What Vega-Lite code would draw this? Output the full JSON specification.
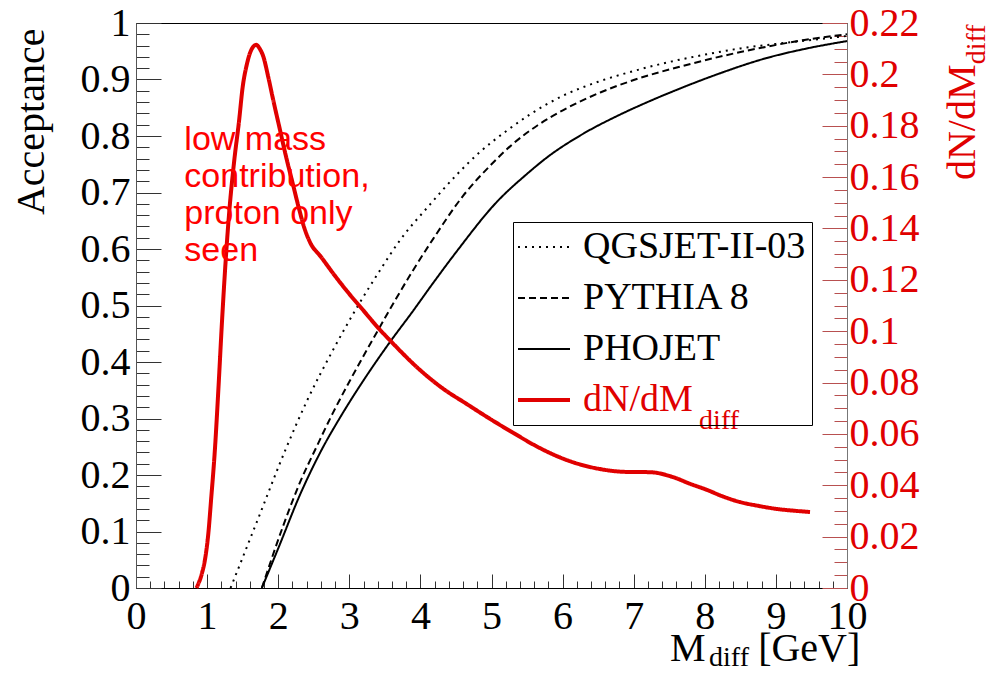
{
  "$schema": "https://vega.github.io/schema/vega-lite/v6.json",
  "width": 711,
  "height": 565,
  "autosize": {"type": "none"},
  "padding": {"left": 136, "top": 23, "right": 153, "bottom": 87},
  "background": "white",
  "config": {
    "view": {"stroke": "black", "strokeWidth": 1},
    "axis": {"grid": false},
    "legend": {
      "orient": "none",
      "legendX": 377,
      "legendY": 199,
      "labelFont": "Liberation Serif",
      "labelFontSize": 38,
      "labelColor": "black",
      "labelLimit": 0,
      "symbolType": "stroke",
      "symbolSize": 2704,
      "symbolOffset": 6,
      "symbolStrokeWidth": 2,
      "labelOffset": 20,
      "rowPadding": 13,
      "padding": 6,
      "strokeColor": "black",
      "cornerRadius": 0
    }
  },
  "datasets": {
    "acc": [
      {"series": "QGSJET-II-03", "m": 1.33, "acc": 0},
      {"series": "QGSJET-II-03", "m": 1.7, "acc": 0.117},
      {"series": "QGSJET-II-03", "m": 2.1, "acc": 0.244},
      {"series": "QGSJET-II-03", "m": 2.4, "acc": 0.33},
      {"series": "QGSJET-II-03", "m": 2.77, "acc": 0.421},
      {"series": "QGSJET-II-03", "m": 3.11, "acc": 0.497},
      {"series": "QGSJET-II-03", "m": 3.43, "acc": 0.562},
      {"series": "QGSJET-II-03", "m": 3.71, "acc": 0.615},
      {"series": "QGSJET-II-03", "m": 4.13, "acc": 0.678},
      {"series": "QGSJET-II-03", "m": 4.5, "acc": 0.73},
      {"series": "QGSJET-II-03", "m": 4.84, "acc": 0.772},
      {"series": "QGSJET-II-03", "m": 5.2, "acc": 0.808},
      {"series": "QGSJET-II-03", "m": 5.54, "acc": 0.838},
      {"series": "QGSJET-II-03", "m": 6.0, "acc": 0.871},
      {"series": "QGSJET-II-03", "m": 6.5, "acc": 0.896},
      {"series": "QGSJET-II-03", "m": 7.0, "acc": 0.915},
      {"series": "QGSJET-II-03", "m": 7.5, "acc": 0.931},
      {"series": "QGSJET-II-03", "m": 8.0, "acc": 0.944},
      {"series": "QGSJET-II-03", "m": 8.5, "acc": 0.955},
      {"series": "QGSJET-II-03", "m": 9.0, "acc": 0.963},
      {"series": "QGSJET-II-03", "m": 9.5, "acc": 0.97},
      {"series": "QGSJET-II-03", "m": 10, "acc": 0.977},
      {"series": "PYTHIA 8", "m": 1.77, "acc": 0},
      {"series": "PYTHIA 8", "m": 2.07, "acc": 0.11},
      {"series": "PYTHIA 8", "m": 2.3, "acc": 0.185},
      {"series": "PYTHIA 8", "m": 2.54, "acc": 0.25},
      {"series": "PYTHIA 8", "m": 2.77, "acc": 0.31},
      {"series": "PYTHIA 8", "m": 3.0, "acc": 0.365},
      {"series": "PYTHIA 8", "m": 3.38, "acc": 0.451},
      {"series": "PYTHIA 8", "m": 3.9, "acc": 0.563},
      {"series": "PYTHIA 8", "m": 4.18, "acc": 0.618},
      {"series": "PYTHIA 8", "m": 4.6, "acc": 0.694},
      {"series": "PYTHIA 8", "m": 5.0, "acc": 0.75},
      {"series": "PYTHIA 8", "m": 5.3, "acc": 0.786},
      {"series": "PYTHIA 8", "m": 5.65, "acc": 0.819},
      {"series": "PYTHIA 8", "m": 6.01, "acc": 0.846},
      {"series": "PYTHIA 8", "m": 6.53, "acc": 0.877},
      {"series": "PYTHIA 8", "m": 7.0, "acc": 0.899},
      {"series": "PYTHIA 8", "m": 7.69, "acc": 0.924},
      {"series": "PYTHIA 8", "m": 8.3, "acc": 0.943},
      {"series": "PYTHIA 8", "m": 8.87, "acc": 0.958},
      {"series": "PYTHIA 8", "m": 9.4, "acc": 0.97},
      {"series": "PYTHIA 8", "m": 10, "acc": 0.98},
      {"series": "PHOJET", "m": 1.77, "acc": 0},
      {"series": "PHOJET", "m": 2.0, "acc": 0.07},
      {"series": "PHOJET", "m": 2.31, "acc": 0.166},
      {"series": "PHOJET", "m": 2.6, "acc": 0.242},
      {"series": "PHOJET", "m": 2.91, "acc": 0.31},
      {"series": "PHOJET", "m": 3.25, "acc": 0.377},
      {"series": "PHOJET", "m": 3.57, "acc": 0.435},
      {"series": "PHOJET", "m": 3.9, "acc": 0.491},
      {"series": "PHOJET", "m": 4.18, "acc": 0.54},
      {"series": "PHOJET", "m": 4.5, "acc": 0.594},
      {"series": "PHOJET", "m": 5.08, "acc": 0.684},
      {"series": "PHOJET", "m": 5.5, "acc": 0.733},
      {"series": "PHOJET", "m": 5.78, "acc": 0.762},
      {"series": "PHOJET", "m": 6.29, "acc": 0.804},
      {"series": "PHOJET", "m": 6.81, "acc": 0.838},
      {"series": "PHOJET", "m": 7.23, "acc": 0.862},
      {"series": "PHOJET", "m": 7.69, "acc": 0.886},
      {"series": "PHOJET", "m": 8.17, "acc": 0.909},
      {"series": "PHOJET", "m": 8.87, "acc": 0.938},
      {"series": "PHOJET", "m": 9.4, "acc": 0.954},
      {"series": "PHOJET", "m": 10, "acc": 0.968}
    ],
    "dn": [
      {"series": "dN/dM", "m": 0.85, "dn": 0},
      {"series": "dN/dM", "m": 0.93, "dn": 0.006},
      {"series": "dN/dM", "m": 0.97, "dn": 0.011},
      {"series": "dN/dM", "m": 1.02, "dn": 0.022},
      {"series": "dN/dM", "m": 1.055, "dn": 0.034},
      {"series": "dN/dM", "m": 1.11, "dn": 0.054},
      {"series": "dN/dM", "m": 1.16, "dn": 0.078},
      {"series": "dN/dM", "m": 1.21, "dn": 0.104},
      {"series": "dN/dM", "m": 1.26, "dn": 0.127},
      {"series": "dN/dM", "m": 1.31, "dn": 0.146},
      {"series": "dN/dM", "m": 1.38, "dn": 0.166},
      {"series": "dN/dM", "m": 1.45, "dn": 0.182},
      {"series": "dN/dM", "m": 1.5, "dn": 0.195},
      {"series": "dN/dM", "m": 1.56, "dn": 0.204},
      {"series": "dN/dM", "m": 1.63, "dn": 0.21},
      {"series": "dN/dM", "m": 1.69, "dn": 0.2115},
      {"series": "dN/dM", "m": 1.74, "dn": 0.21},
      {"series": "dN/dM", "m": 1.79, "dn": 0.207},
      {"series": "dN/dM", "m": 1.86, "dn": 0.199},
      {"series": "dN/dM", "m": 1.93, "dn": 0.19},
      {"series": "dN/dM", "m": 2.02, "dn": 0.179},
      {"series": "dN/dM", "m": 2.11, "dn": 0.168},
      {"series": "dN/dM", "m": 2.2, "dn": 0.158},
      {"series": "dN/dM", "m": 2.29, "dn": 0.148},
      {"series": "dN/dM", "m": 2.37, "dn": 0.14},
      {"series": "dN/dM", "m": 2.45, "dn": 0.1345},
      {"series": "dN/dM", "m": 2.6, "dn": 0.129},
      {"series": "dN/dM", "m": 2.8, "dn": 0.1215},
      {"series": "dN/dM", "m": 3.0, "dn": 0.1145},
      {"series": "dN/dM", "m": 3.2, "dn": 0.108},
      {"series": "dN/dM", "m": 3.4, "dn": 0.1015},
      {"series": "dN/dM", "m": 3.57, "dn": 0.0965},
      {"series": "dN/dM", "m": 3.99, "dn": 0.085},
      {"series": "dN/dM", "m": 4.3, "dn": 0.078},
      {"series": "dN/dM", "m": 4.66, "dn": 0.0715},
      {"series": "dN/dM", "m": 5.0, "dn": 0.0655},
      {"series": "dN/dM", "m": 5.3, "dn": 0.0605},
      {"series": "dN/dM", "m": 5.68, "dn": 0.0545},
      {"series": "dN/dM", "m": 6.06, "dn": 0.0498},
      {"series": "dN/dM", "m": 6.53, "dn": 0.0463},
      {"series": "dN/dM", "m": 6.9, "dn": 0.0452},
      {"series": "dN/dM", "m": 7.23, "dn": 0.0451},
      {"series": "dN/dM", "m": 7.55, "dn": 0.0432},
      {"series": "dN/dM", "m": 7.8, "dn": 0.0405},
      {"series": "dN/dM", "m": 8.03, "dn": 0.0382},
      {"series": "dN/dM", "m": 8.25, "dn": 0.0357},
      {"series": "dN/dM", "m": 8.49, "dn": 0.0335},
      {"series": "dN/dM", "m": 8.75, "dn": 0.032},
      {"series": "dN/dM", "m": 9.01, "dn": 0.0308},
      {"series": "dN/dM", "m": 9.25, "dn": 0.0301},
      {"series": "dN/dM", "m": 9.48, "dn": 0.0296}
    ],
    "note": [{"m": 0.68, "acc": 0.775, "text": "low mass\ncontribution,\nproton only\nseen"}],
    "xtitle": [{"m": 7.51, "acc": -0.129, "text": "M"}, {"m": 8.75, "acc": -0.129, "text": "[GeV]"}],
    "xsub": [{"m": 8.06, "acc": -0.138, "text": "diff"}],
    "rtitle": [{"m": 11.8, "acc": 0.722, "text": "dN/dM"}],
    "rsub": [{"m": 11.94, "acc": 0.927, "text": "diff"}],
    "legsub": [{"m": 7.92, "acc": 0.281, "text": "diff"}]
  },
  "encoding": {
    "x": {
      "field": "m", "type": "quantitative",
      "scale": {"domain": [0, 10], "nice": false, "zero": false},
      "axis": {
        "title": null,
        "values": [0,0.2,0.4,0.6,0.8,1,1.2,1.4,1.6,1.8,2,2.2,2.4,2.6,2.8,3,3.2,3.4,3.6,3.8,4,4.2,4.4,4.6,4.8,5,5.2,5.4,5.6,5.8,6,6.2,6.4,6.6,6.8,7,7.2,7.4,7.6,7.8,8,8.2,8.4,8.6,8.8,9,9.2,9.4,9.6,9.8,10],
        "format": "~g",
        "labelExpr": "abs(datum.value - round(datum.value)) < 0.000001 ? datum.label : ''",
        "tickSize": {"condition": {"test": "abs(datum.value - round(datum.value)) < 0.000001", "value": -14}, "value": -7},
        "tickColor": "#333333",
        "domainColor": "black",
        "labelFont": "Liberation Serif",
        "labelFontSize": 40,
        "labelColor": "black",
        "labelPadding": 22,
        "labelOverlap": false,
        "labelBound": false,
        "labelFlush": false
      }
    }
  },
  "layer": [
    {
      "data": {"name": "acc"},
      "mark": {"type": "line", "interpolate": "monotone", "strokeWidth": 2},
      "encoding": {
        "y": {
          "field": "acc", "type": "quantitative",
          "scale": {"domain": [0, 1], "nice": false},
          "axis": {
            "title": "Acceptance",
            "titleFont": "Liberation Serif",
            "titleFontSize": 40,
            "titleFontWeight": "normal",
            "titleColor": "black",
            "titleAngle": 270,
            "titleAlign": "right",
            "titleBaseline": "alphabetic",
            "titleX": -93,
            "titleY": 5,
            "values": [0,0.02,0.04,0.06,0.08,0.1,0.12,0.14,0.16,0.18,0.2,0.22,0.24,0.26,0.28,0.3,0.32,0.34,0.36,0.38,0.4,0.42,0.44,0.46,0.48,0.5,0.52,0.54,0.56,0.58,0.6,0.62,0.64,0.66,0.68,0.7,0.72,0.74,0.76,0.78,0.8,0.82,0.84,0.86,0.88,0.9,0.92,0.94,0.96,0.98,1],
            "format": "~g",
            "labelExpr": "abs(datum.value*10 - round(datum.value*10)) < 0.000001 ? datum.label : ''",
            "tickSize": {"condition": {"test": "abs(datum.value*10 - round(datum.value*10)) < 0.000001", "value": -25}, "value": -13},
            "tickColor": "#333333",
            "domainColor": "#555555",
            "labelFont": "Liberation Serif",
            "labelFontSize": 40,
            "labelColor": "black",
            "labelPadding": 31,
            "labelOverlap": false,
            "labelBound": false,
            "labelFlush": false
          }
        },
        "color": {
          "field": "series", "type": "nominal",
          "scale": {"domain": ["QGSJET-II-03", "PYTHIA 8", "PHOJET", "dN/dM"], "range": ["black", "black", "black", "#e00000"]},
          "legend": {
            "title": null,
            "encode": {
              "labels": {"update": {"fill": {"signal": "datum.value === 'dN/dM' ? '#e00000' : 'black'"}}},
              "symbols": {"update": {"strokeWidth": {"signal": "datum.value === 'dN/dM' ? 4 : 2"}}}
            }
          }
        },
        "strokeDash": {
          "field": "series", "type": "nominal",
          "scale": {"domain": ["QGSJET-II-03", "PYTHIA 8", "PHOJET", "dN/dM"], "range": [[2, 5], [7, 4], [1, 0], [1, 0]]},
          "legend": {"title": null}
        }
      }
    },
    {
      "data": {"name": "dn"},
      "mark": {"type": "line", "interpolate": "monotone", "strokeWidth": 4},
      "encoding": {
        "y": {
          "field": "dn", "type": "quantitative",
          "scale": {"domain": [0, 0.22], "nice": false},
          "axis": {
            "orient": "right",
            "title": null,
            "values": [0,0.005,0.01,0.015,0.02,0.025,0.03,0.035,0.04,0.045,0.05,0.055,0.06,0.065,0.07,0.075,0.08,0.085,0.09,0.095,0.1,0.105,0.11,0.115,0.12,0.125,0.13,0.135,0.14,0.145,0.15,0.155,0.16,0.165,0.17,0.175,0.18,0.185,0.19,0.195,0.2,0.205,0.21,0.215,0.22],
            "format": "~g",
            "labelExpr": "abs(datum.value*50 - round(datum.value*50)) < 0.000001 ? datum.label : ''",
            "tickSize": {"condition": {"test": "abs(datum.value*50 - round(datum.value*50)) < 0.000001", "value": -25}, "value": -13},
            "tickColor": "#b85050",
            "domainColor": "#777777",
            "labelFont": "Liberation Serif",
            "labelFontSize": 40,
            "labelColor": "#e00000",
            "labelPadding": 27,
            "labelOverlap": false,
            "labelBound": false,
            "labelFlush": false
          }
        },
        "color": {"field": "series", "type": "nominal", "legend": {"title": null}},
        "strokeDash": {"field": "series", "type": "nominal", "legend": {"title": null}}
      }
    },
    {
      "data": {"name": "note"},
      "mark": {"type": "text", "font": "Liberation Sans", "fontSize": 34, "color": "#ff0000", "align": "left", "baseline": "alphabetic", "lineBreak": "\n", "lineHeight": 37},
      "encoding": {
        "y": {"field": "acc", "type": "quantitative", "scale": {"domain": [0, 1], "nice": false}, "axis": null},
        "text": {"field": "text"}
      }
    },
    {
      "data": {"name": "xtitle"},
      "mark": {"type": "text", "font": "Liberation Serif", "fontSize": 40, "color": "black", "align": "left", "baseline": "alphabetic"},
      "encoding": {
        "y": {"field": "acc", "type": "quantitative", "scale": {"domain": [0, 1], "nice": false}, "axis": null},
        "text": {"field": "text"}
      }
    },
    {
      "data": {"name": "xsub"},
      "mark": {"type": "text", "font": "Liberation Serif", "fontSize": 28, "color": "black", "align": "left", "baseline": "alphabetic"},
      "encoding": {
        "y": {"field": "acc", "type": "quantitative", "scale": {"domain": [0, 1], "nice": false}, "axis": null},
        "text": {"field": "text"}
      }
    },
    {
      "data": {"name": "rtitle"},
      "mark": {"type": "text", "font": "Liberation Serif", "fontSize": 40, "color": "#e00000", "align": "left", "baseline": "alphabetic", "angle": 270},
      "encoding": {
        "y": {"field": "acc", "type": "quantitative", "scale": {"domain": [0, 1], "nice": false}, "axis": null},
        "text": {"field": "text"}
      }
    },
    {
      "data": {"name": "rsub"},
      "mark": {"type": "text", "font": "Liberation Serif", "fontSize": 28, "color": "#e00000", "align": "left", "baseline": "alphabetic", "angle": 270},
      "encoding": {
        "y": {"field": "acc", "type": "quantitative", "scale": {"domain": [0, 1], "nice": false}, "axis": null},
        "text": {"field": "text"}
      }
    },
    {
      "data": {"name": "legsub"},
      "mark": {"type": "text", "font": "Liberation Serif", "fontSize": 28, "color": "#e00000", "align": "left", "baseline": "alphabetic"},
      "encoding": {
        "y": {"field": "acc", "type": "quantitative", "scale": {"domain": [0, 1], "nice": false}, "axis": null},
        "text": {"field": "text"}
      }
    }
  ],
  "resolve": {"scale": {"y": "independent"}}
}
